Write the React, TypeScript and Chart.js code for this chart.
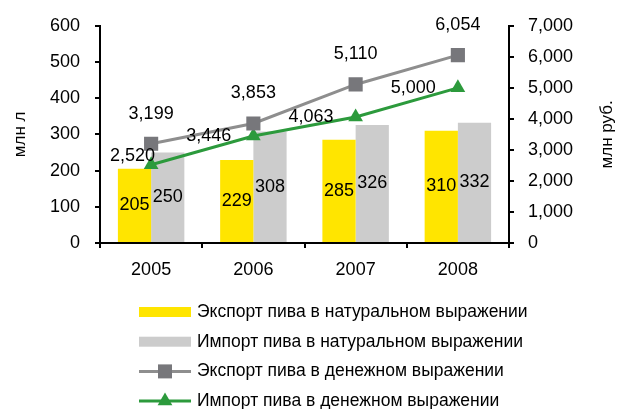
import React, { useEffect, useRef } from 'react';
import { Chart, registerables } from 'chart.js';

Chart.register(...registerables);

const categories = ['2005', '2006', '2007', '2008'];
const exportVolume = [205, 229, 285, 310];
const importVolume = [250, 308, 326, 332];
const exportValue = [3199, 3853, 5110, 6054];
const importValue = [2520, 3446, 4063, 5000];

const seriesNames = [
  'Экспорт пива в натуральном выражении',
  'Импорт пива в натуральном выражении',
  'Экспорт пива в денежном выражении',
  'Импорт пива в денежном выражении',
];

const leftAxisTitle = 'млн л';
const rightAxisTitle = 'млн руб.';
const leftMax = 600;
const leftStep = 100;
const rightMax = 7000;
const rightStep = 1000;

const FAMILY = "'Liberation Sans', Arial, sans-serif";
const FONT = `18px ${FAMILY}`;
const YELLOW = '#FFE500';
const GRAYBAR = '#CCCCCC';
const GRAYLINE = '#8E8E8E';
const GRAYMARK = '#77777B';
const GREEN = '#2C9A3C';

const fmt = (v: number) => v.toLocaleString('en-US');

function drawMarker(ctx: CanvasRenderingContext2D, style: string, x: number, y: number, color: string) {
  ctx.save();
  ctx.fillStyle = color;
  ctx.beginPath();
  if (style === 'rect') {
    ctx.rect(x - 7, y - 7, 14, 14);
  } else {
    const r = 8.5;
    ctx.moveTo(x, y - r);
    ctx.lineTo(x + r * 0.866, y + r * 0.5);
    ctx.lineTo(x - r * 0.866, y + r * 0.5);
    ctx.closePath();
  }
  ctx.fill();
  ctx.restore();
}

const labelPlugin = {
  id: 'valueLabels',
  afterDatasetsDraw(chart: any) {
    const ctx = chart.ctx as CanvasRenderingContext2D;
    const area = chart.chartArea;
    ctx.save();
    ctx.font = FONT;
    ctx.fillStyle = '#000';
    ctx.textBaseline = 'middle';
    chart.data.datasets.forEach((ds: any, i: number) => {
      const meta = chart.getDatasetMeta(i);
      meta.data.forEach((el: any, j: number) => {
        const text = fmt(ds.data[j]);
        const p = el.getProps(['x', 'y', 'base'], true);
        if (ds.labelPos === 'center') {
          ctx.textAlign = 'center';
          ctx.fillText(text, p.x, (p.y + p.base) / 2);
        } else if (ds.labelPos === 'above') {
          ctx.textAlign = 'center';
          ctx.fillText(text, p.x, p.y - 30);
        } else if (ds.labelPos === 'left') {
          const w = ctx.measureText(text).width;
          let right = p.x - 22;
          let y = p.y;
          if (right - w < area.left + 10) {
            right = area.left + 10 + w;
            y = p.y - 9;
          }
          ctx.textAlign = 'right';
          ctx.fillText(text, right, y);
        }
      });
    });
    ctx.restore();
  },
};

const decorPlugin = {
  id: 'decor',
  afterDraw(chart: any) {
    const ctx = chart.ctx as CanvasRenderingContext2D;
    const area = chart.chartArea;
    ctx.save();
    // axis titles
    ctx.font = `17px ${FAMILY}`;
    ctx.fillStyle = '#000';
    ctx.textAlign = 'center';
    ctx.textBaseline = 'middle';
    const cy = (area.top + area.bottom) / 2;
    ctx.save();
    ctx.translate(20, cy);
    ctx.rotate(-Math.PI / 2);
    ctx.fillText(leftAxisTitle, 0, 0);
    ctx.restore();
    ctx.save();
    ctx.translate(607, cy);
    ctx.rotate(-Math.PI / 2);
    ctx.fillText(rightAxisTitle, 0, 0);
    ctx.restore();

    // legend
    ctx.font = `17.5px ${FAMILY}`;
    ctx.textAlign = 'left';
    const x0 = 139;
    const x1 = 191;
    chart.data.datasets.forEach((ds: any, i: number) => {
      const y = area.bottom + 69 + i * 29.7;
      if (ds.type === 'bar') {
        ctx.fillStyle = ds.backgroundColor;
        ctx.fillRect(x0, y - 5, x1 - x0, 10);
      } else {
        ctx.strokeStyle = ds.borderColor;
        ctx.lineWidth = 3;
        ctx.beginPath();
        ctx.moveTo(x0, y);
        ctx.lineTo(x1, y);
        ctx.stroke();
        drawMarker(ctx, ds.pointStyle, (x0 + x1) / 2, y, ds.pointBackgroundColor);
      }
      ctx.fillStyle = '#000';
      ctx.fillText(ds.label, 197, y);
    });
    ctx.restore();
  },
};

export default function App() {
  const ref = useRef<HTMLCanvasElement | null>(null);
  useEffect(() => {
    if (!ref.current) return;
    const axisGrid = {
      drawOnChartArea: false,
      drawTicks: true,
      tickLength: 5,
      color: '#000',
      lineWidth: 2,
    };
    const chart = new Chart(ref.current, {
      type: 'bar',
      data: {
        labels: categories,
        datasets: [
          {
            type: 'bar',
            label: seriesNames[0],
            data: exportVolume,
            backgroundColor: YELLOW,
            yAxisID: 'y',
            order: 2,
            categoryPercentage: 0.65,
            barPercentage: 1,
            labelPos: 'center',
          } as any,
          {
            type: 'bar',
            label: seriesNames[1],
            data: importVolume,
            backgroundColor: GRAYBAR,
            yAxisID: 'y',
            order: 2,
            categoryPercentage: 0.65,
            barPercentage: 1,
            labelPos: 'center',
          } as any,
          {
            type: 'line',
            label: seriesNames[2],
            data: exportValue,
            borderColor: GRAYLINE,
            borderWidth: 3,
            pointStyle: 'rect',
            pointRadius: 10,
            pointBackgroundColor: GRAYMARK,
            pointBorderWidth: 0,
            yAxisID: 'y1',
            order: 0,
            labelPos: 'above',
          } as any,
          {
            type: 'line',
            label: seriesNames[3],
            data: importValue,
            borderColor: GREEN,
            borderWidth: 3,
            pointStyle: 'triangle',
            pointRadius: 8.5,
            pointBackgroundColor: GREEN,
            pointBorderWidth: 0,
            yAxisID: 'y1',
            order: 1,
            labelPos: 'left',
          } as any,
        ],
      },
      options: {
        responsive: false,
        animation: false,
        devicePixelRatio: 1,
        layout: { padding: { top: 24, bottom: 0, left: 0, right: 0 } },
        plugins: {
          legend: { display: false },
          tooltip: { enabled: false },
          title: { display: false },
        },
        scales: {
          x: {
            offset: true,
            grid: { ...axisGrid, offset: true },
            border: { color: '#000', width: 2 },
            ticks: { color: '#000', font: { family: FAMILY, size: 18 }, padding: 11 },
            afterFit: (s: any) => {
              s.height = 166;
            },
          },
          y: {
            position: 'left',
            min: 0,
            max: leftMax,
            grid: axisGrid,
            border: { color: '#000', width: 2 },
            ticks: {
              stepSize: leftStep,
              color: '#000',
              font: { family: FAMILY, size: 18 },
              padding: 15,
              callback: (v: any) => fmt(Number(v)),
            },
            afterFit: (s: any) => {
              s.width = 100;
            },
          },
          y1: {
            position: 'right',
            min: 0,
            max: rightMax,
            grid: axisGrid,
            border: { color: '#000', width: 2 },
            ticks: {
              stepSize: rightStep,
              color: '#000',
              font: { family: FAMILY, size: 18 },
              padding: 14,
              callback: (v: any) => fmt(Number(v)),
            },
            afterFit: (s: any) => {
              s.width = 112;
            },
          },
        },
      } as any,
      plugins: [labelPlugin, decorPlugin],
    });
    return () => chart.destroy();
  }, []);
  return (
    <div style={{ position: 'fixed', left: 0, top: 0, width: 621, height: 409, background: '#fff', overflow: 'hidden' }}>
      <canvas ref={ref} width={621} height={409} style={{ display: 'block' }} />
    </div>
  );
}
